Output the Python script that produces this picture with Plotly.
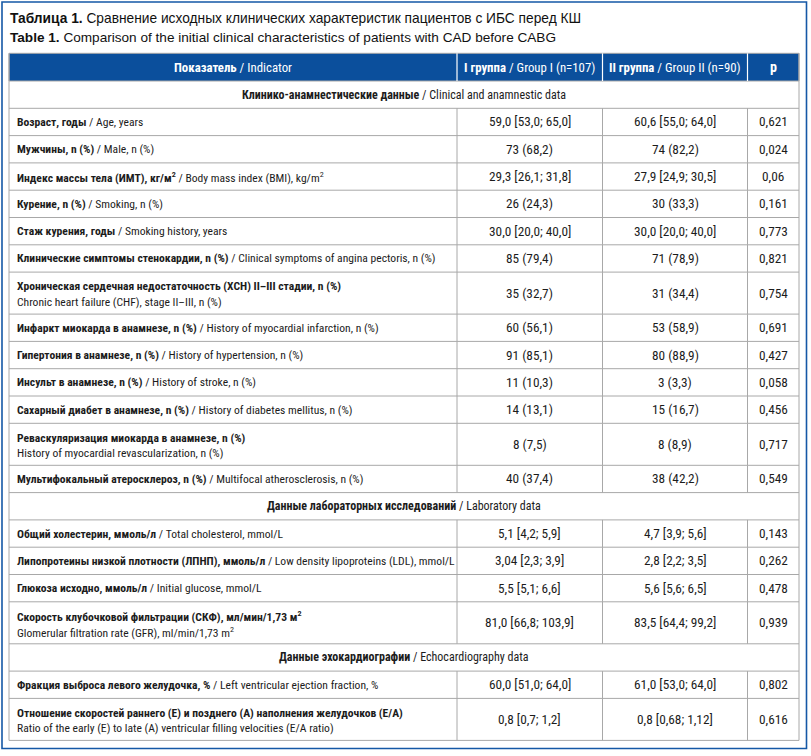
import plotly.graph_objects as go

# ---------------- data ----------------
title_ru = ("Таблица 1.", "Сравнение исходных клинических характеристик пациентов с ИБС перед КШ")
title_en = ("Table 1.", "Comparison of the initial clinical characteristics of patients with CAD before CABG")

header_ru = ["Показатель", "I группа", "II группа", "p"]
header_en = ["Indicator", "Group I (n=107)", "Group II (n=90)", ""]

section_ru = ["Клинико-анамнестические данные", "Данные лабораторных исследований", "Данные эхокардиографии"]
section_en = ["Clinical and anamnestic data", "Laboratory data", "Echocardiography data"]
section_start = [0, 13, 17]   # index of first indicator in each section

indicator_ru = [
    "Возраст, годы",
    "Мужчины, n (%)",
    "Индекс массы тела (ИМТ), кг/м<sup>2</sup>",
    "Курение, n (%)",
    "Стаж курения, годы",
    "Клинические симптомы стенокардии, n (%)",
    "Хроническая сердечная недостаточность (ХСН) II–III стадии, n (%)",
    "Инфаркт миокарда в анамнезе, n (%)",
    "Гипертония в анамнезе, n (%)",
    "Инсульт в анамнезе, n (%)",
    "Сахарный диабет в анамнезе, n (%)",
    "Реваскуляризация миокарда в анамнезе, n (%)",
    "Мультифокальный атеросклероз, n (%)",
    "Общий холестерин, ммоль/л",
    "Липопротеины низкой плотности (ЛПНП), ммоль/л",
    "Глюкоза исходно, ммоль/л",
    "Скорость клубочковой фильтрации (СКФ), мл/мин/1,73 м<sup>2</sup>",
    "Фракция выброса левого желудочка, %",
    "Отношение скоростей раннего (E) и позднего (A) наполнения желудочков (E/A)",
]
indicator_en = [
    "Age, years",
    "Male, n (%)",
    "Body mass index (BMI), kg/m<sup>2</sup>",
    "Smoking, n (%)",
    "Smoking history, years",
    "Clinical symptoms of angina pectoris, n (%)",
    "Chronic heart failure (CHF), stage II–III, n (%)",
    "History of myocardial infarction, n (%)",
    "History of hypertension, n (%)",
    "History of stroke, n (%)",
    "History of diabetes mellitus, n (%)",
    "History of myocardial revascularization, n (%)",
    "Multifocal atherosclerosis, n (%)",
    "Total cholesterol, mmol/L",
    "Low density lipoproteins (LDL), mmol/L",
    "Initial glucose, mmol/L",
    "Glomerular filtration rate (GFR), ml/min/1,73 m<sup>2</sup>",
    "Left ventricular ejection fraction, %",
    "Ratio of the early (E) to late (A) ventricular filling velocities (E/A ratio)",
]
two_line = [False, False, False, False, False, False, True, False, False, False,
            False, True, False, False, False, False, True, False, True]

group1 = ["59,0 [53,0; 65,0]", "73 (68,2)", "29,3 [26,1; 31,8]", "26 (24,3)", "30,0 [20,0; 40,0]",
          "85 (79,4)", "35 (32,7)", "60 (56,1)", "91 (85,1)", "11 (10,3)", "14 (13,1)", "8 (7,5)",
          "40 (37,4)", "5,1 [4,2; 5,9]", "3,04 [2,3; 3,9]", "5,5 [5,1; 6,6]", "81,0 [66,8; 103,9]",
          "60,0 [51,0; 64,0]", "0,8 [0,7; 1,2]"]
group2 = ["60,6 [55,0; 64,0]", "74 (82,2)", "27,9 [24,9; 30,5]", "30 (33,3)", "30,0 [20,0; 40,0]",
          "71 (78,9)", "31 (34,4)", "53 (58,9)", "80 (88,9)", "3 (3,3)", "15 (16,7)", "8 (8,9)",
          "38 (42,2)", "4,7 [3,9; 5,6]", "2,8 [2,2; 3,5]", "5,6 [5,6; 6,5]", "83,5 [64,4; 99,2]",
          "61,0 [53,0; 64,0]", "0,8 [0,68; 1,12]"]
p_values = ["0,621", "0,024", "0,06", "0,161", "0,773", "0,821", "0,754", "0,691", "0,427", "0,058",
            "0,456", "0,717", "0,549", "0,143", "0,262", "0,478", "0,939", "0,802", "0,616"]

# ---------------- style / layout ----------------
W, H = 811, 756
col_edges = [9, 457, 602.5, 747.5, 799]
table_top = 53.3
h_header, h_section, h_single, h_double = 27.7, 27.3, 27.3, 42.0
line_gap = 15.5

HEAD_BLUE = "#0b4f9c"
FRAME_BLUE = "#1558a6"
GRID = "#a8a8a8"
TXT = "#1c1c1c"
COND = "Roboto Condensed, DejaVu Sans Condensed, sans-serif"
REG = "Liberation Sans, Arial, Helvetica, sans-serif"
FS_LABEL = 11.6
FS_SECTION = 12.0
FS_VALUE = 13.3
FS_HEAD = 12.8

rows = []
for i in range(len(indicator_ru)):
    if i in section_start:
        rows.append(("section", section_start.index(i)))
    rows.append(("data", i))

annotations = []
shapes = []

def ann(x, y, text, xanchor="center", size=FS_LABEL, color=TXT, family=COND):
    annotations.append(dict(x=x, y=y, xref="x", yref="y", text=text, showarrow=False,
                            xanchor=xanchor, yanchor="middle", align="left",
                            font=dict(family=family, size=size, color=color)))

def hline(y, x0, x1, color=GRID, w=1):
    shapes.append(dict(type="line", xref="x", yref="y", x0=x0, x1=x1, y0=y, y1=y,
                       line=dict(color=color, width=w)))

def vline(x, y0, y1, color=GRID, w=1):
    shapes.append(dict(type="line", xref="x", yref="y", x0=x, x1=x, y0=y0, y1=y1,
                       line=dict(color=color, width=w)))

# outer frame
shapes.append(dict(type="rect", xref="x", yref="y", x0=2, x1=806.5, y0=2, y1=748.5,
                   line=dict(color=FRAME_BLUE, width=1.6), fillcolor="rgba(0,0,0,0)"))

# title
ann(8, 18.5, f"<b>{title_ru[0]}</b> {title_ru[1]}", xanchor="left", size=13.75, family=REG, color="#111")
ann(8, 37.5, f"<b>{title_en[0]}</b> {title_en[1]}", xanchor="left", size=13.6, family=REG, color="#111")

# header
y0 = table_top
y1 = y0 + h_header
shapes.append(dict(type="rect", xref="x", yref="y", x0=col_edges[0], x1=col_edges[-1], y0=y0, y1=y1,
                   fillcolor=HEAD_BLUE, line=dict(color=GRID, width=1), layer="below"))
for xe in col_edges[1:-1]:
    vline(xe, y0, y1, color="white", w=1.2)
for c in range(4):
    xc = (col_edges[c] + col_edges[c + 1]) / 2
    t = f"<b>{header_ru[c]}</b>" + (f" / {header_en[c]}" if header_en[c] else "")
    ann(xc, (y0 + y1) / 2, t, size=FS_HEAD if c < 3 else 14, color="white")

y = y1
for kind, idx in rows:
    if kind == "section":
        h = h_section
        ann((col_edges[0] + col_edges[-1]) / 2, y + h / 2,
            f"<b>{section_ru[idx]}</b> / {section_en[idx]}", size=FS_SECTION)
    else:
        h = h_double if two_line[idx] else h_single
        yc = y + h / 2
        if two_line[idx]:
            ann(col_edges[0] + 6, yc - line_gap / 2 + 1, f"<b>{indicator_ru[idx]}</b>", xanchor="left")
            ann(col_edges[0] + 6, yc + line_gap / 2 + 1, indicator_en[idx], xanchor="left")
        else:
            ann(col_edges[0] + 6, yc, f"<b>{indicator_ru[idx]}</b> / {indicator_en[idx]}", xanchor="left")
        for c, val in zip(range(1, 4), (group1[idx], group2[idx], p_values[idx])):
            ann((col_edges[c] + col_edges[c + 1]) / 2, yc, val, size=FS_VALUE)
        for xe in col_edges[1:-1]:
            vline(xe, y, y + h)
    y += h
    hline(y, col_edges[0], col_edges[-1])

vline(col_edges[0], table_top, y)
vline(col_edges[-1], table_top, y)

fig = go.Figure()
fig.add_trace(go.Scatter(x=[0, W], y=[0, H], mode="markers", marker=dict(opacity=0),
                         hoverinfo="skip", showlegend=False))
fig.update_layout(
    width=W, height=H, margin=dict(l=0, r=0, t=0, b=0),
    paper_bgcolor="white", plot_bgcolor="white",
    xaxis=dict(range=[0, W], visible=False, fixedrange=True),
    yaxis=dict(range=[H, 0], visible=False, fixedrange=True),
    annotations=annotations, shapes=shapes, showlegend=False,
)
fig.write_html("out.html", config={"displayModeBar": False},
               post_script="document.body.style.margin='0';document.body.style.overflow='hidden';")
